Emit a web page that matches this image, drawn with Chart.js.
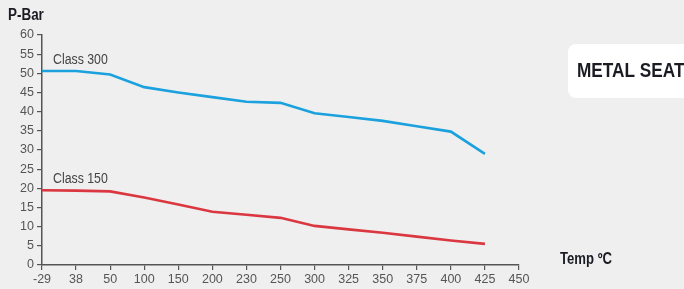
<!DOCTYPE html>
<html>
<head>
<meta charset="utf-8">
<script src="https://cdn.jsdelivr.net/npm/chart.js@4"></script>
<style>
  html, body { margin: 0; padding: 0; background: #efefef; }
  #wrap { width: 684px; height: 289px; position: relative; }
</style>
</head>
<body>
<div id="wrap"><canvas id="chart" width="684" height="289"></canvas></div>
<script>
// temperatures (ºC) along the x axis
const temps = ["-29", "38", "50", "100", "150", "200", "230", "250", "300", "325", "350", "375", "400", "425", "450"];
// pressure ratings in bar
const class300 = [50.6, 50.6, 49.7, 46.4, 45.0, 43.8, 42.6, 42.3, 39.6, 38.6, 37.6, 36.2, 34.8, 29.0, null];
const class150 = [19.5, 19.4, 19.2, 17.6, 15.8, 13.9, 13.1, 12.3, 10.2, 9.3, 8.4, 7.4, 6.4, 5.5, null];
const seriesNames = ["Class 300", "Class 150"];
const yTicks = [0, 5, 10, 15, 20, 25, 30, 35, 40, 45, 50, 55, 60];

const axisColor = "#555";
const fontFamily = "'Liberation Sans', Arial, sans-serif";
const tickFont = { family: fontFamily, size: 12.5 };

// draws text squeezed horizontally, the original uses a narrow face
function narrowText(ctx, text, x, y, sx) {
  ctx.save();
  ctx.translate(x, y);
  ctx.scale(sx, 1);
  ctx.fillText(text, 0, 0);
  ctx.restore();
}

// extra text: axis titles, series names and the metal seat badge
const extras = {
  id: "extras",
  afterDraw(chart) {
    const ctx = chart.ctx;
    const x = chart.scales.x;
    const y = chart.scales.y;
    ctx.save();
    ctx.fillStyle = "#1b1b24";
    ctx.font = "bold 16px " + fontFamily;
    ctx.textBaseline = "middle";
    ctx.textAlign = "left";
    narrowText(ctx, "P-Bar", 8, 16, 0.84);
    narrowText(ctx, "Temp ºC", 560, 260, 0.82);

    // badge
    ctx.fillStyle = "#ffffff";
    ctx.beginPath();
    ctx.roundRect(568, 44, 130, 54, 8);
    ctx.fill();
    ctx.fillStyle = "#1b1b24";
    ctx.font = "bold 21px " + fontFamily;
    narrowText(ctx, "METAL SEAT", 577, 71, 0.82);

    // series names above the first point
    ctx.fillStyle = "#444";
    ctx.font = "14px " + fontFamily;
    chart.data.datasets.forEach((ds) => {
      narrowText(ctx, ds.label, x.getPixelForValue(0) + 11, y.getPixelForValue(ds.data[0]) - 11, 0.88);
    });
    ctx.restore();
  }
};

new Chart(document.getElementById("chart"), {
  type: "line",
  data: {
    labels: temps,
    datasets: [
      {
        label: seriesNames[0],
        data: class300,
        borderColor: "#1ba1dd",
        borderWidth: 2.6,
        pointRadius: 0,
        tension: 0,
      },
      {
        label: seriesNames[1],
        data: class150,
        borderColor: "#db3740",
        borderWidth: 2.6,
        pointRadius: 0,
        tension: 0,
      },
    ],
  },
  options: {
    responsive: false,
    animation: false,
    layout: { padding: { top: 35, right: 165, left: 0, bottom: 0 } },
    plugins: { legend: { display: false }, tooltip: { enabled: false } },
    scales: {
      x: {
        offset: false,
        afterFit: (s) => { s.height = 24; },
        grid: { display: true, drawOnChartArea: false, drawTicks: true, tickLength: 5, color: axisColor, lineWidth: 1.2 },
        border: { display: true, color: axisColor, width: 1.5 },
        ticks: { color: axisColor, font: tickFont, padding: 2, maxRotation: 0, autoSkip: false },
      },
      y: {
        min: 0,
        max: 60,
        afterFit: (s) => { s.width = 42; },
        afterBuildTicks: (s) => { s.ticks = yTicks.map((v) => ({ value: v })); },
        grid: { display: true, drawOnChartArea: false, drawTicks: true, tickLength: 5, color: axisColor, lineWidth: 1.2 },
        border: { display: true, color: axisColor, width: 1.5 },
        ticks: { color: axisColor, font: tickFont, padding: 3 },
      },
    },
  },
  plugins: [extras],
});
</script>
</body>
</html>
